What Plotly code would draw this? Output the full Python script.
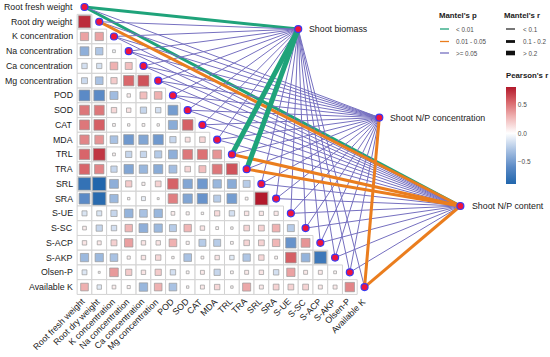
import plotly.graph_objects as go
from plotly.colors import sample_colorscale

# ---------------- data ----------------
variables = ["Root fresh weight", "Root dry weight", "K concentration", "Na concentration",
             "Ca concentration", "Mg concentration", "POD", "SOD", "CAT", "MDA", "TRL", "TRA",
             "SRL", "SRA", "S-UE", "S-SC", "S-ACP", "S-AKP", "Olsen-P", "Available K"]

# Pearson's r, lower triangle: row i holds columns 0..i-1
r_rfw = []
r_rdw = [0.75]
r_k = [0.35, 0.35]
r_na = [-0.40, -0.28, -0.04]
r_ca = [-0.15, -0.14, 0.30, 0.25]
r_mg = [-0.18, -0.30, 0.20, 0.55, 0.62]
r_pod = [-0.60, -0.60, -0.33, 0.06, 0.25, 0.30]
r_sod = [0.50, 0.50, 0.15, 0.10, -0.20, -0.15, -0.50]
r_cat = [0.50, 0.58, 0.04, 0.03, 0.04, 0.03, -0.42, 0.58]
r_mda = [0.45, 0.40, -0.30, -0.52, -0.45, -0.52, -0.20, 0.12, 0.16]
r_trl = [0.56, 0.72, 0.04, -0.20, -0.20, -0.26, -0.40, 0.50, 0.52, 0.40]
r_tra = [0.56, 0.45, -0.20, -0.45, -0.36, -0.42, -0.32, 0.16, 0.25, 0.50, 0.62]
r_srl = [-0.80, -0.90, -0.40, 0.20, 0.05, 0.17, 0.57, -0.45, -0.52, -0.36, -0.42, -0.25]
r_sra = [-0.60, -0.86, -0.35, 0.03, -0.08, 0.02, 0.47, -0.45, -0.55, -0.25, -0.50, 0.04, 0.82]
r_sue = [-0.13, -0.13, -0.20, -0.38, -0.30, -0.36, 0.07, 0.05, 0.03, 0.14, -0.15, 0.10, 0.09, 0.09]
r_ssc = [0.07, -0.20, -0.15, 0.28, -0.40, -0.35, -0.25, 0.28, 0.10, 0.04, 0.03, 0.16, 0.17, 0.30, -0.25]
r_sacp = [0.10, 0.08, 0.18, 0.36, 0.10, 0.10, 0.30, 0.05, -0.25, -0.25, 0.04, 0.16, 0.17, 0.28, -0.55, 0.40]
r_sakp = [-0.35, -0.35, -0.30, 0.05, 0.10, 0.15, 0.03, -0.30, 0.04, 0.10, -0.10, -0.28, 0.15, 0.04,
          0.58, -0.38, -0.75]
r_olsen = [-0.12, 0.02, 0.38, 0.20, 0.10, 0.20, -0.15, 0.04, 0.08, -0.20, 0.04, 0.08, 0.10, -0.15,
           0.35, 0.08, 0.08, 0.04]
r_avk = [0.30, -0.10, 0.07, 0.05, -0.36, 0.30, -0.30, 0.03, 0.08, 0.15, 0.03, 0.33, 0.08, 0.17,
         0.17, 0.17, 0.08, 0.08, 0.45]
corr_rows = [r_rfw, r_rdw, r_k, r_na, r_ca, r_mg, r_pod, r_sod, r_cat, r_mda, r_trl, r_tra,
             r_srl, r_sra, r_sue, r_ssc, r_sacp, r_sakp, r_olsen, r_avk]

targets = ["Shoot biomass", "Shoot N/P concentration", "Shoot N/P content"]

# Mantel statistics for each target vs each variable (same order as `variables`)
mantel_r_biomass = [0.16, 0.06, 0.04, 0.03, 0.05, 0.04, 0.06, 0.03, 0.05, 0.04, 0.32, 0.28,
                    0.07, 0.06, 0.03, 0.04, 0.02, 0.05, 0.03, 0.04]
mantel_p_biomass = [0.004, 0.12, 0.35, 0.48, 0.27, 0.41, 0.19, 0.62, 0.30, 0.44, 0.001, 0.002,
                    0.15, 0.22, 0.58, 0.39, 0.71, 0.33, 0.52, 0.46]
mantel_r_conc = [0.05, 0.04, 0.03, 0.06, 0.04, 0.05, 0.03, 0.04, 0.02, 0.05, 0.06, 0.05,
                 0.04, 0.03, 0.05, 0.04, 0.06, 0.03, 0.04, 0.15]
mantel_p_conc = [0.21, 0.33, 0.47, 0.18, 0.36, 0.25, 0.55, 0.40, 0.68, 0.29, 0.14, 0.23,
                 0.37, 0.51, 0.26, 0.42, 0.17, 0.58, 0.45, 0.03]
mantel_r_content = [0.14, 0.17, 0.04, 0.05, 0.03, 0.06, 0.04, 0.05, 0.03, 0.04, 0.18, 0.17,
                    0.06, 0.05, 0.04, 0.03, 0.05, 0.04, 0.03, 0.16]
mantel_p_content = [0.008, 0.02, 0.31, 0.24, 0.49, 0.16, 0.38, 0.27, 0.57, 0.43, 0.02, 0.03,
                    0.13, 0.20, 0.34, 0.61, 0.28, 0.40, 0.53, 0.02]
mantel_r = [mantel_r_biomass, mantel_r_conc, mantel_r_content]
mantel_p = [mantel_p_biomass, mantel_p_conc, mantel_p_content]

p_labels = ["< 0.01", "0.01 - 0.05", ">= 0.05"]
r_labels = ["< 0.1", "0.1 - 0.2", "> 0.2"]

# ---------------- styles ----------------
W, H = 550, 357
FONT = "Liberation Sans, Arial, sans-serif"
CELL = 14.74           # px per cell
X0_PX, Y0_PX = 84.5, 7.0
n = len(variables)

P_COLORS = ["#1FA37A", "#EA7D1E", "#7670C0"]
R_WIDTHS = [1.0, 3.0, 5.0]

def p_class(p):
    return 0 if p < 0.01 else (1 if p < 0.05 else 2)

def r_class(r):
    return 0 if r < 0.1 else (1 if r < 0.2 else 2)

all_r = [v for row in corr_rows for v in row]
cmin, cmax = min(all_r), max(all_r)
stops_v = [-0.9, -0.6, -0.3, 0.0, 0.3, 0.55, 0.82]
stops_c = ["#2166AC", "#5B8AC6", "#A9C2E3", "#FFFFFF", "#EFB1B1", "#D9686C", "#B2182B"]
colorscale = [[(v - cmin) / (cmax - cmin), c] for v, c in zip(stops_v, stops_c)]
colorscale[0][0] = 0.0
colorscale[-1][0] = 1.0

# target node layout (spread along the upper right)
target_col = [14.5 + 5.5 * k for k in range(len(targets))]
target_row = [1.5 + 6.0 * k for k in range(len(targets))]

fig = go.Figure()

# ---------------- links ----------------
groups = {}
for k in range(len(targets)):
    for i in range(n):
        key = (p_class(mantel_p[k][i]), r_class(mantel_r[k][i]))
        xs, ys = groups.setdefault(key, ([], []))
        xs += [target_col[k], i, None]
        ys += [target_row[k], i, None]

def draw_order(kk):
    if kk == (0, 1):
        return (0, 0)
    return (1, -kk[0], kk[1])

for key in sorted(groups, key=draw_order):
    xs, ys = groups[key]
    fig.add_trace(go.Scatter(x=xs, y=ys, mode="lines", hoverinfo="skip", showlegend=False,
                             line=dict(color=P_COLORS[key[0]], width=R_WIDTHS[key[1]])))

# ---------------- nodes ----------------
node_style = dict(size=7, color="#F0143C", line=dict(color="#3A3AF0", width=1.2))
fig.add_trace(go.Scatter(x=list(range(n)), y=list(range(n)), mode="markers", marker=node_style,
                         showlegend=False, hoverinfo="text", text=variables))
fig.add_trace(go.Scatter(x=target_col, y=target_row, mode="markers", marker=node_style,
                         showlegend=False, hoverinfo="text", text=targets))

# ---------------- correlation cells ----------------
shapes = []
cx, cy, cv = [], [], []
for i, row in enumerate(corr_rows):
    for j, v in enumerate(row):
        shapes.append(dict(type="rect", xref="x", yref="y", x0=j - 0.5, x1=j + 0.5,
                           y0=i - 0.5, y1=i + 0.5, fillcolor="white",
                           line=dict(color="#D2D2D2", width=1), layer="below"))
        s = 0.95 * abs(v) ** 0.5 / 2
        col = sample_colorscale(colorscale, [(v - cmin) / (cmax - cmin)])[0]
        shapes.append(dict(type="rect", xref="x", yref="y", x0=j - s, x1=j + s,
                           y0=i - s, y1=i + s, fillcolor=col,
                           line=dict(color="#9A9A9A", width=0.7), layer="below"))
        cx.append(j); cy.append(i); cv.append(v)

# colorbar carrier (invisible markers at cell centres)
fig.add_trace(go.Scatter(
    x=cx, y=cy, mode="markers", hoverinfo="skip", showlegend=False,
    marker=dict(size=1, opacity=0, color=cv, colorscale=colorscale, cmin=cmin, cmax=cmax,
                showscale=True,
                colorbar=dict(thickness=10, len=97, lenmode="pixels", x=505.7 / W, xanchor="left",
                              y=1 - 135.5 / H, yanchor="middle", xpad=0, ypad=0, outlinewidth=0,
                              tickvals=[-0.5, 0.0, 0.5], tickformat=".1f", ticks="",
                              tickfont=dict(size=6.5, color="#4D4D4D", family=FONT)))))

# ---------------- labels ----------------
ann = []
for i, name in enumerate(variables):
    ann.append(dict(x=-0.62, y=i, xref="x", yref="y", text=name, showarrow=False,
                    xanchor="right", yanchor="middle", font=dict(size=8.8, color="#1A1A1A", family=FONT)))
    ann.append(dict(x=i + 0.38, y=19.45, xref="x", yref="y", text=name, showarrow=False,
                    textangle=-45, xanchor="right", yanchor="top",
                    font=dict(size=8.8, color="#1A1A1A", family=FONT)))
for k, name in enumerate(targets):
    ann.append(dict(x=target_col[k] + 0.62, y=target_row[k], xref="x", yref="y", text=name,
                    showarrow=False, xanchor="left", yanchor="middle",
                    font=dict(size=8.8, color="#1A1A1A", family=FONT)))

def px(x):
    return x / W

def py(y):
    return 1 - y / H

# legend: Mantel's p / Mantel's r
ann.append(dict(x=px(437), y=py(16), xref="paper", yref="paper", text="<b>Mantel's p</b>",
                showarrow=False, xanchor="left", yanchor="middle", font=dict(size=7.8, color="#1A1A1A", family=FONT)))
ann.append(dict(x=px(502), y=py(16), xref="paper", yref="paper", text="<b>Mantel's r</b>",
                showarrow=False, xanchor="left", yanchor="middle", font=dict(size=7.8, color="#1A1A1A", family=FONT)))
ann.append(dict(x=px(504), y=py(75), xref="paper", yref="paper", text="<b>Pearson's r</b>",
                showarrow=False, xanchor="left", yanchor="middle", font=dict(size=7.8, color="#1A1A1A", family=FONT)))
leg_y = [29, 41.5, 53]
key_widths = [1.6, 2.8, 4.6]
key_colors = ["#555555", "#111111", "#111111"]
for k in range(3):
    shapes.append(dict(type="line", xref="paper", yref="paper", x0=px(440), x1=px(449),
                       y0=py(leg_y[k]), y1=py(leg_y[k]), line=dict(color=P_COLORS[k], width=1.3)))
    ann.append(dict(x=px(454), y=py(leg_y[k]), xref="paper", yref="paper", text=p_labels[k],
                    showarrow=False, xanchor="left", yanchor="middle",
                    font=dict(size=6.3, color="#4D4D4D", family=FONT)))
    shapes.append(dict(type="line", xref="paper", yref="paper", x0=px(506), x1=px(515),
                       y0=py(leg_y[k]), y1=py(leg_y[k]), line=dict(color=key_colors[k], width=key_widths[k])))
    ann.append(dict(x=px(521), y=py(leg_y[k]), xref="paper", yref="paper", text=r_labels[k],
                    showarrow=False, xanchor="left", yanchor="middle",
                    font=dict(size=6.3, color="#4D4D4D", family=FONT)))

x_lo = -X0_PX / CELL
y_lo = -Y0_PX / CELL
fig.update_layout(
    width=W, height=H, autosize=False,
    margin=dict(l=0, r=0, t=0, b=0),
    paper_bgcolor="white", plot_bgcolor="white",
    xaxis=dict(range=[x_lo, x_lo + W / CELL], visible=False, fixedrange=True),
    yaxis=dict(range=[y_lo + H / CELL, y_lo], visible=False, fixedrange=True),
    shapes=shapes, annotations=ann, showlegend=False,
    font=dict(family=FONT),
)
fig.write_html("out.html", config={"displayModeBar": False},
               post_script="document.body.style.margin='0px';document.body.style.overflow='hidden';")
